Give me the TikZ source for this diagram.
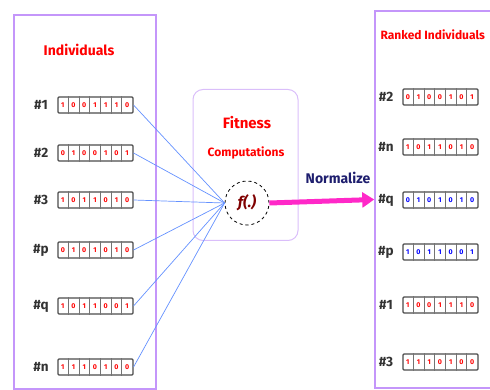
\documentclass[tikz,border=0pt]{standalone}
\usepackage{fontspec}
\setmainfont{Fira Sans}
\usetikzlibrary{arrows.meta,calc}

\definecolor{lilac}{RGB}{196,150,250}
\definecolor{palelilac}{RGB}{218,190,250}
\definecolor{pinkarrow}{RGB}{255,40,200}
\definecolor{wirecol}{RGB}{100,145,255}
\definecolor{navytext}{RGB}{30,30,110}

\tikzset{
    panelbox/.style={draw=lilac, line width=1.5pt, inner sep=0pt},
    regbox/.style={draw=black!70, line width=1.1pt, rounded corners=1pt, fill=white,
        minimum width=75pt, minimum height=16pt, inner sep=0pt},
    regline/.style={black!55, line width=0.7pt},
    bitcell/.style={font=\fontsize{7}{7}\selectfont\bfseries, inner sep=0pt},
    idlabel/.style={font=\fontsize{13.5}{13.5}\selectfont\bfseries, text=black!80},
    titletext/.style={font=\fontsize{14}{14}\selectfont\bfseries, text=red},
    fcircle/.style={circle, draw, dashed, thick, fill=white, minimum size=44pt, inner sep=0pt,
        font=\fontsize{15}{15}\selectfont\bfseries\itshape, text=red!50!black},
    wire/.style={wirecol, line width=0.7pt},
    normarrow/.style={-{Triangle[length=12pt,width=15pt]}, pinkarrow, line width=5pt}
}

% bit register: node name, centre, list of bits, bit colour
\newcommand{\bitreg}[4]{%
    \node[regbox] (#1) at (#2) {};
    \foreach \bv [count=\ci] in {#3}
        \node[bitcell, text=#4] at ($(#1.west)+(\ci*10.714-5.357,0)$) {\bv};
    \foreach \ci in {1,...,6}
        \draw[regline] ($(#1.south west)+(\ci*10.714,0)$) -- ($(#1.north west)+(\ci*10.714,0)$);
}

\begin{document}
\begin{tikzpicture}[x=1pt,y=-1pt]
\clip (0,0) rectangle (490,390);
% the three panels
\node[panelbox, minimum width=142pt, minimum height=374pt] (pool) at (85,202) {};
\node[panelbox, draw=palelilac, line width=1pt, rounded corners=10pt,
    minimum width=105pt, minimum height=151pt] (fitbox) at (245.5,165) {};
\node[panelbox, minimum width=125pt, minimum height=377pt] (ranked) at (437.5,199.5) {};

\node[titletext] (pooltitle) at (79,50) {Individuals};
\node[titletext, font=\fontsize{12}{12}\selectfont\bfseries, anchor=west] (rankedtitle) at (377,35) {Ranked Individuals};
\node[titletext, font=\fontsize{15}{15}\selectfont\bfseries] (fittitle) at (247,123) {Fitness};
\node[titletext, font=\fontsize{12}{12}\selectfont\bfseries] (comptitle) at (246,153) {Computations};

% population before ranking
\node[idlabel] (l1) at (41,105) {\#1};
\bitreg{r1}{95.5,105}{1,0,0,1,1,1,0}{red}
\node[idlabel] (l2) at (41,153) {\#2};
\bitreg{r2}{95.5,153}{0,1,0,0,1,0,1}{red}
\node[idlabel] (l3) at (41,200) {\#3};
\bitreg{r3}{95.5,200}{1,0,1,1,0,1,0}{red}
\node[idlabel] (lp) at (41,250) {\#p};
\bitreg{rp}{95.5,250}{0,1,0,1,0,1,0}{red}
\node[idlabel] (lq) at (41,306) {\#q};
\bitreg{rq}{95.5,306}{1,0,1,1,0,0,1}{red}
\node[idlabel] (ln) at (41,367) {\#n};
\bitreg{rn}{95.5,367}{1,1,1,0,1,0,0}{red}

% fitness function
\node[fcircle] (fx) at (247,203) {f(.)};
\draw[wire] (r1.east) -- (fx.west);
\draw[wire] (r2.east) -- (fx.west);
\draw[wire] (r3.east) -- (fx.west);
\draw[wire] (rp.east) -- (fx.west);
\draw[wire] (rq.east) -- (fx.west);
\draw[wire] (rn.east) -- (fx.west);

\draw[normarrow] (fx.east) -- (ranked.west);
\node[font=\fontsize{14}{14}\selectfont\bfseries, text=navytext] (normlabel) at (338,178) {Normalize};

% population after ranking
\node[idlabel] (k2) at (386,97) {\#2};
\bitreg{s2}{440.5,97}{0,1,0,0,1,0,1}{red}
\node[idlabel] (kn) at (386,147) {\#n};
\bitreg{sn}{440.5,147}{1,0,1,1,0,1,0}{red}
\node[idlabel] (kq) at (386,200) {\#q};
\bitreg{sq}{440.5,200}{0,1,0,1,0,1,0}{blue}
\node[idlabel] (kp) at (386,252) {\#p};
\bitreg{sp}{440.5,252}{1,0,1,1,0,0,1}{blue}
\node[idlabel] (k1) at (386,305) {\#1};
\bitreg{s1}{440.5,305}{1,0,0,1,1,1,0}{red}
\node[idlabel] (k3) at (386,362) {\#3};
\bitreg{s3}{440.5,362}{1,1,1,0,1,0,0}{red}
\end{tikzpicture}
\end{document}
